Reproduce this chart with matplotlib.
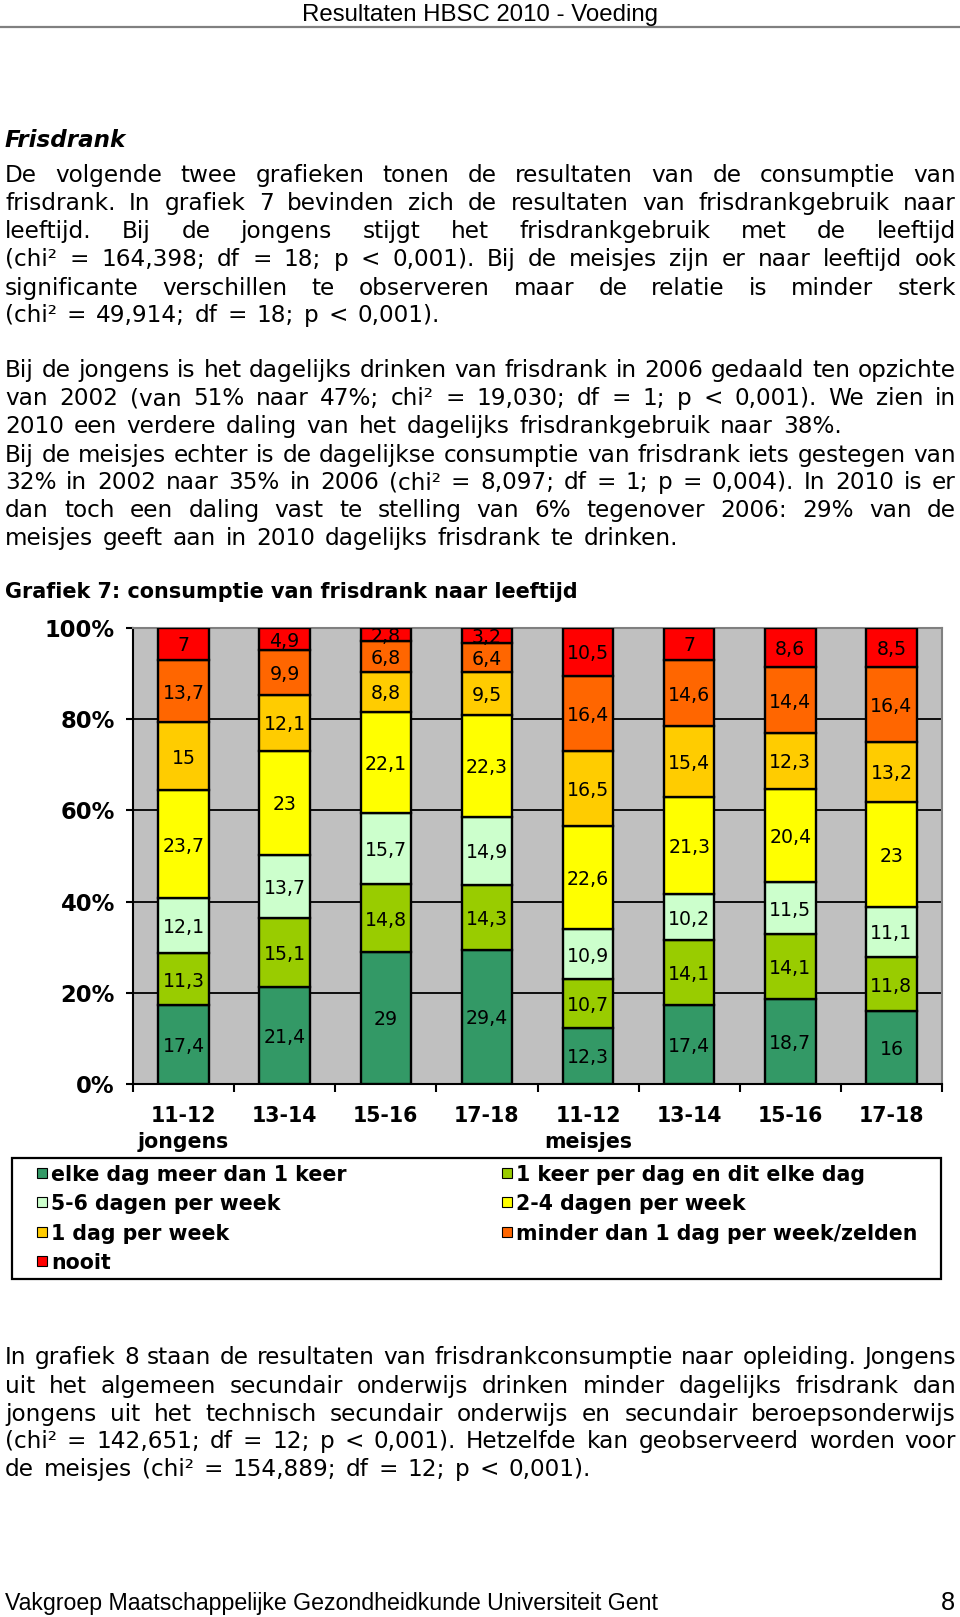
import matplotlib
matplotlib.use("Agg")
import matplotlib.pyplot as plt
import numpy as np
from matplotlib import font_manager
from matplotlib.patches import Rectangle
from matplotlib.transforms import Affine2D

W, H = 960, 1617

# ---- chart data (grafiek 7) ----
groups = ["11-12", "13-14", "15-16", "17-18", "11-12", "13-14", "15-16", "17-18"]
sexes = ["jongens", "meisjes"]
labels = ["elke dag meer dan 1 keer", "1 keer per dag en dit elke dag",
          "5-6 dagen per week", "2-4 dagen per week", "1 dag per week",
          "minder dan 1 dag per week/zelden", "nooit"]
colors = ["#339966", "#99CC00", "#CCFFCC", "#FFFF00", "#FFCC00", "#FF6600", "#FF0000"]
meer_dan_1 = [17.4, 21.4, 29, 29.4, 12.3, 17.4, 18.7, 16]
een_keer = [11.3, 15.1, 14.8, 14.3, 10.7, 14.1, 14.1, 11.8]
vijf_zes = [12.1, 13.7, 15.7, 14.9, 10.9, 10.2, 11.5, 11.1]
twee_vier = [23.7, 23, 22.1, 22.3, 22.6, 21.3, 20.4, 23]
een_dag = [15, 12.1, 8.8, 9.5, 16.5, 15.4, 12.3, 13.2]
minder = [13.7, 9.9, 6.8, 6.4, 16.4, 14.6, 14.4, 16.4]
nooit = [7, 4.9, 2.8, 3.2, 10.5, 7, 8.6, 8.5]
series = [meer_dan_1, een_keer, vijf_zes, twee_vier, een_dag, minder, nooit]

# ---- page text ----
header = "Resultaten HBSC 2010 - Voeding"
footer = "Vakgroep Maatschappelijke Gezondheidkunde Universiteit Gent"
page_no = "8"
section = "Frisdrank"
chart_title = "Grafiek 7: consumptie van frisdrank naar leeftijd"
para_top = [
    ["De volgende twee grafieken tonen de resultaten van de consumptie van",
     "frisdrank. In grafiek 7 bevinden zich de resultaten van frisdrankgebruik naar",
     "leeftijd. Bij de jongens stijgt het frisdrankgebruik met de leeftijd",
     "(chi² = 164,398; df = 18; p < 0,001). Bij de meisjes zijn er naar leeftijd ook",
     "significante verschillen te observeren maar de relatie is minder sterk",
     "(chi² = 49,914; df = 18; p < 0,001)."],
    ["Bij de jongens is het dagelijks drinken van frisdrank in 2006 gedaald ten opzichte",
     "van 2002 (van 51% naar 47%; chi² = 19,030; df = 1; p < 0,001). We zien in",
     "2010 een verdere daling van het dagelijks frisdrankgebruik naar 38%."],
    ["Bij de meisjes echter is de dagelijkse consumptie van frisdrank iets gestegen van",
     "32% in 2002 naar 35% in 2006 (chi² = 8,097; df = 1; p = 0,004). In 2010 is er",
     "dan toch een daling vast te stelling van 6% tegenover 2006: 29% van de",
     "meisjes geeft aan in 2010 dagelijks frisdrank te drinken."],
]
para_bottom = [
    ["In grafiek 8 staan de resultaten van frisdrankconsumptie naar opleiding. Jongens",
     "uit het algemeen secundair onderwijs drinken minder dagelijks frisdrank dan",
     "jongens uit het technisch secundair onderwijs en secundair beroepsonderwijs",
     "(chi² = 142,651; df = 12; p < 0,001). Hetzelfde kan geobserveerd worden voor",
     "de meisjes (chi² = 154,889; df = 12; p < 0,001)."],
]
line_y_top = [[173, 201, 229, 257, 286, 313], [368, 396, 424], [453, 480, 508, 536]]
line_y_bottom = [[1355, 1384, 1412, 1439, 1467]]

fig = plt.figure(figsize=(W / 100, H / 100), dpi=100)
px = Affine2D().scale(1 / 100, -1 / 100).translate(0, H / 100) + fig.dpi_scale_trans
renderer = fig.canvas.get_renderer()

names = {f.name for f in font_manager.fontManager.ttflist}
narrow = "Liberation Sans Narrow" if "Liberation Sans Narrow" in names else "Liberation Sans"
body = "DejaVu Sans"


def text_width(s, size, **kw):
    t = fig.text(0, 0, s, fontsize=size, **kw)
    w = t.get_window_extent(renderer).width
    t.remove()
    return w


def fit_size(s, width, **kw):
    return 10 * width / text_width(s, 10, **kw)


def put(x, y, s, **kw):
    # y is the visual middle of the line, in page pixels from the top
    fig.text(x, y, s, transform=px, va="center_baseline", **kw)


# header / footer
hs = fit_size(header, 343, family=narrow) * 1.04
put(480, 13, header, ha="center", family=narrow, fontsize=hs)
fig.add_artist(plt.Line2D([0, W], [27, 27], transform=px, color="#808080", lw=1.6))
fs_foot = fit_size(footer, 655, family=narrow)
put(5, 1601, footer, family=narrow, fontsize=fs_foot)
put(955, 1601, page_no, ha="right", family=narrow, fontsize=fs_foot * 1.1)

# body text: the longest justified line is set almost at its natural width
bs = fit_size(para_top[1][0], 945, family=body)
space = 0.42 * bs * 100 / 72   # word gap on the ragged last lines

put(5, 138, section, family=body, fontsize=fit_size(section, 121, family=body,
    weight="bold", style="italic"), weight="bold", style="italic")
put(5, 590, chart_title, family=body, weight="bold",
    fontsize=fit_size(chart_title, 573, family=body, weight="bold"))


def paragraph(lines, ys, x0=5, x1=956):
    for i, (line, y) in enumerate(zip(lines, ys)):
        words = line.split(" ")
        widths = [text_width(w, bs, family=body) for w in words]
        if i == len(lines) - 1:
            gap = space
        else:
            gap = (x1 - x0 - sum(widths)) / (len(words) - 1)
        x = x0
        for w, wd in zip(words, widths):
            put(x, y, w, family=body, fontsize=bs)
            x += wd + gap


for lines, ys in zip(para_top + para_bottom, line_y_top + line_y_bottom):
    paragraph(lines, ys)

# ---- chart ----
left, right, top, bot = 133, 942, 628, 1084
ax = fig.add_axes([left / W, (H - bot) / H, (right - left) / W, (bot - top) / H])
ax.set_facecolor("#C0C0C0")
x = np.arange(len(groups))
data = np.array(series, dtype=float)
pct = data / data.sum(axis=0) * 100
bottom = np.zeros(len(groups))
lab_fs = 13.6
for vals, p, col in zip(data, pct, colors):
    ax.bar(x, p, 0.5, bottom=bottom, color=col, edgecolor="black", linewidth=1.7, zorder=3)
    for xi, b, h, v in zip(x, bottom, p, vals):
        ax.text(xi, b + h / 2, f"{v:g}".replace(".", ","), ha="center",
                va="center_baseline", fontsize=lab_fs, family=body, zorder=4)
    bottom += p

ax.set_xlim(-0.5, len(groups) - 0.5)
ax.set_ylim(0, 100)
ax.set_yticks(range(0, 101, 20))
ax.set_yticklabels([f"{t}%" for t in range(0, 101, 20)], fontsize=16.3, fontweight="bold")
ax.tick_params(axis="y", length=5, width=1.5, pad=8)
ax.yaxis.grid(True, color="black", linewidth=1.3)
ax.set_axisbelow(True)
ax.set_xticks(np.arange(-0.5, len(groups), 1))
ax.set_xticklabels([])
ax.tick_params(axis="x", length=6, width=1.5)
for s in ["left", "bottom"]:
    ax.spines[s].set_color("black")
    ax.spines[s].set_linewidth(1.5)
for s in ["top", "right"]:
    ax.spines[s].set_color("#808080")
    ax.spines[s].set_linewidth(1.5)

for xi, g in zip(x, groups):
    put(left + (xi + 0.5) * (right - left) / len(groups), 1114, g, ha="center",
        fontsize=14.8, weight="bold", family=body)
for k, sx in enumerate(sexes):
    xi = k * 4
    put(left + (xi + 0.5) * (right - left) / len(groups), 1140, sx, ha="center",
        fontsize=14.8, weight="bold", family=body)

# legend box
fig.add_artist(Rectangle((12, 1158), 929, 121, transform=px, fill=False,
                         edgecolor="black", lw=1.6))
leg_fs = fit_size(labels[0], 296, family=body, weight="bold")
rows = [1173, 1202, 1232, 1261]
cols = [37, 502]
for i, (lab, col) in enumerate(zip(labels, colors)):
    r, c = i // 2, i % 2
    fig.add_artist(Rectangle((cols[c], rows[r] - 5), 10, 10, transform=px,
                             facecolor=col, edgecolor="black", lw=0.8))
    put(cols[c] + 14, rows[r], lab, fontsize=leg_fs, weight="bold", family=body)

plt.savefig("out.png", dpi=100)
